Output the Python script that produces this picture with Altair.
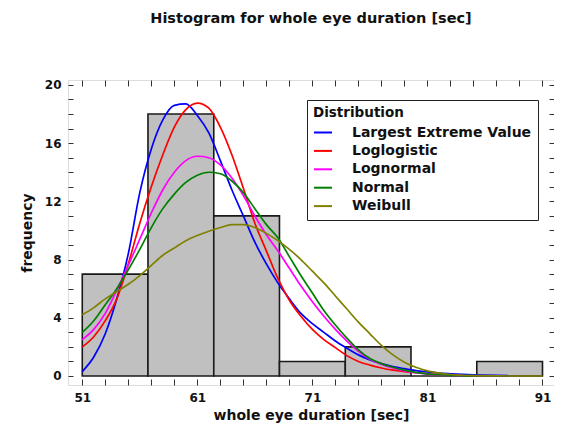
import altair as alt
import pandas as pd

# ---- histogram data ----
bin_start = [51.0, 56.71, 62.43, 68.14, 73.86, 79.57, 85.29]
bin_end = [56.71, 62.43, 68.14, 73.86, 79.57, 85.29, 91.0]
counts = [7, 18, 11, 1, 2, 0, 1]

# ---- fitted curves (frequency read at x = 51, 52, 53, ...) ----
x_start = 51
lev = [0.3, 1.3, 2.9, 5.3, 8.4, 12.6, 15.6, 17.6, 18.6, 18.7, 17.9, 16.7, 14.8, 12.8,
       11.0, 9.2, 7.7, 6.4, 5.3, 4.3, 3.6, 3.0, 2.4, 1.9, 1.45, 1.1, 0.85, 0.65, 0.5,
       0.37, 0.28, 0.2, 0.15, 0.11, 0.08, 0.06, 0.04, 0.03]
loglogistic = [2.0, 2.7, 3.8, 5.3, 7.7, 10.5, 13.0, 15.2, 17.1, 18.3, 18.75, 18.4, 17.1,
               15.2, 12.9, 10.5, 8.6, 6.7, 5.2, 4.1, 3.2, 2.5, 1.95, 1.4, 1.0, 0.75,
               0.55, 0.4, 0.3, 0.22, 0.15, 0.1, 0.07, 0.05]
lognormal = [2.5, 3.2, 4.3, 5.9, 7.6, 9.4, 11.2, 12.8, 14.0, 14.8, 15.1, 15.0, 14.5,
             13.6, 12.4, 11.0, 9.7, 8.6, 7.4, 6.2, 5.1, 4.1, 3.2, 2.4, 1.7, 1.15, 0.8,
             0.55, 0.35, 0.22, 0.13, 0.08, 0.05, 0.03]
normal = [3.0, 3.8, 4.9, 6.0, 7.3, 8.7, 10.2, 11.5, 12.5, 13.3, 13.8, 14.0, 13.9, 13.4,
          12.6, 11.5, 10.4, 9.5, 8.2, 6.9, 5.7, 4.5, 3.5, 2.6, 1.8, 1.2, 0.85, 0.6, 0.4,
          0.25, 0.15, 0.09, 0.05, 0.03, 0.02]
weibull = [4.2, 4.7, 5.3, 5.8, 6.3, 6.9, 7.6, 8.3, 8.8, 9.3, 9.65, 9.95, 10.2, 10.4,
           10.4, 10.2, 9.8, 9.3, 8.7, 8.0, 7.2, 6.4, 5.5, 4.6, 3.7, 2.9, 2.1, 1.45, 0.95,
           0.6, 0.35, 0.2, 0.1, 0.05, 0.03, 0.02, 0.01, 0.0, 0.0, 0.0, 0.0]

dist_names = ["Largest Extreme Value", "Loglogistic", "Lognormal", "Normal", "Weibull"]
dist_colors = ["#0000ff", "#ff0000", "#ff00ff", "#008000", "#808000"]
series = [lev, loglogistic, lognormal, normal, weibull]

x_ticks = list(range(51, 92, 2))
y_ticks = list(range(0, 21))

bars_df = pd.DataFrame({"start": bin_start, "end": bin_end, "count": counts})
rows = []
for name, vals in zip(dist_names, series):
    for i, v in enumerate(vals):
        rows.append({"x": x_start + i, "freq": v, "dist": name})
lines_df = pd.DataFrame(rows)

FONT = "DejaVu Sans"
x_dom = [49.76, 92.0]
y_dom = [-0.62, 20.34]

bars = alt.Chart(bars_df).mark_rect(
    fill="#c0c0c0", stroke="#1a1a1a", strokeWidth=1.6
).encode(
    x=alt.X("start:Q",
            scale=alt.Scale(domain=x_dom, nice=False, zero=False),
            axis=alt.Axis(orient="bottom", values=x_ticks,
                          labelExpr="datum.value % 10 == 1 ? datum.label : ''",
                          offset=-6, tickSize=6, tickColor="#333", tickWidth=1,
                          labelPadding=7, domain=False, grid=False,
                          title="whole eye duration [sec]", titlePadding=5,
                          labelFont=FONT, labelFontSize=12, labelFontWeight="bold",
                          labelColor="#111", titleFont=FONT, titleFontSize=14,
                          titleFontWeight="bold", titleColor="#111")),
    x2="end:Q",
    y=alt.Y("count:Q",
            scale=alt.Scale(domain=y_dom, nice=False, zero=False),
            axis=alt.Axis(orient="left", values=y_ticks,
                          labelExpr="datum.value % 4 == 0 ? datum.label : ''",
                          offset=-5, tickSize=5, tickColor="#333", tickWidth=1,
                          labelPadding=7, domain=False, grid=False,
                          title="frequency", titlePadding=10,
                          labelFont=FONT, labelFontSize=12, labelFontWeight="bold",
                          labelColor="#111", titleFont=FONT, titleFontSize=14,
                          titleFontWeight="bold", titleColor="#111")),
    y2=alt.datum(0),
)

lines = alt.Chart(lines_df).mark_line(strokeWidth=1.7, interpolate="monotone").encode(
    x=alt.X("x:Q",
            scale=alt.Scale(domain=x_dom, nice=False, zero=False),
            axis=alt.Axis(orient="top", values=x_ticks, labels=False, offset=-6,
                          tickSize=6, tickColor="#333", tickWidth=1, domain=False,
                          grid=False, title=None)),
    y=alt.Y("freq:Q",
            scale=alt.Scale(domain=y_dom, nice=False, zero=False),
            axis=alt.Axis(orient="right", values=y_ticks, labels=False, offset=-5,
                          tickSize=5, tickColor="#333", tickWidth=1, domain=False,
                          grid=False, title=None)),
    color=alt.Color("dist:N",
                    scale=alt.Scale(domain=dist_names, range=dist_colors),
                    legend=alt.Legend(title="Distribution", orient="none",
                                      legendX=239, legendY=20,
                                      strokeColor="#222", fillColor="white",
                                      padding=6, symbolType="stroke",
                                      symbolSize=324, symbolStrokeWidth=2,
                                      rowPadding=1.4, labelOffset=19, labelLimit=400,
                                      labelFont=FONT, labelFontSize=14,
                                      labelFontWeight="bold", labelColor="#111",
                                      titleFont=FONT, titleFontSize=13.5,
                                      titleFontWeight="bold", titleColor="#111",
                                      titlePadding=3)),
    detail="dist:N",
)

chart = alt.layer(bars, lines).resolve_scale(
    x="independent", y="independent"
).properties(
    width=486,
    height=305,
    title=alt.TitleParams("Histogram for whole eye duration [sec]", font=FONT,
                          fontSize=14.5, fontWeight="bold", color="#111",
                          anchor="middle", frame="group", offset=52),
    autosize=alt.AutoSizeParams(type="none"),
    padding={"left": 60, "top": 72, "right": 0, "bottom": 40},
).configure_view(
    stroke="#1a1a1a", strokeWidth=2
).configure(background="white")

chart.save("out.html", embed_options={"renderer": "svg", "actions": False})
